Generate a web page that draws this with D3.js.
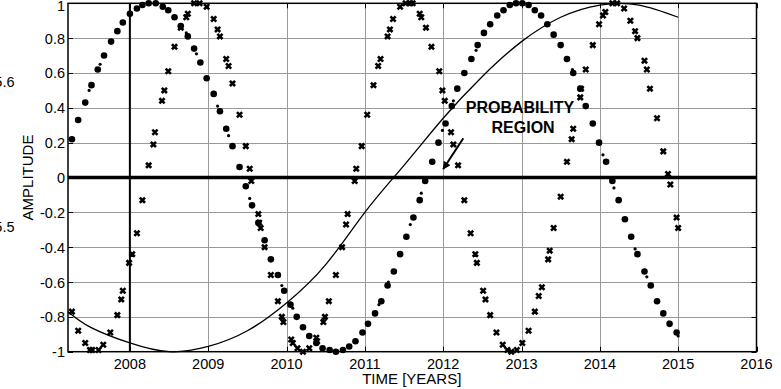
<!DOCTYPE html>
<html>
<head>
<meta charset="utf-8">
<script src="https://cdn.jsdelivr.net/npm/d3@7"></script>
<style>
  body { margin: 0; background: #fff; }
  svg { display: block; font-family: "Liberation Sans", Arial, sans-serif; }
</style>
</head>
<body>
<div id="output"></div>
<script>
// tick labels
const xTicks = [2008, 2009, 2010, 2011, 2012, 2013, 2014, 2015, 2016];
const yTicks = [-1, -0.8, -0.6, -0.4, -0.2, 0, 0.2, 0.4, 0.6, 0.8, 1];
const yTickLabels = ["-1", "-0.8", "-0.6", "-0.4", "-0.2", "0", "0.2", "0.4", "0.6", "0.8", "1"];
const leftoverLabels = ["5.6", "5.5"];

// slow trend curve
const curveYears = [2007.21, 2007.5, 2008.0, 2008.5, 2009.0, 2009.5, 2010.0, 2010.5, 2011.0,
    2011.5, 2012.0, 2012.5, 2013.0, 2013.5, 2014.0, 2014.5, 2015.0];
const curveValues = [-0.77, -0.86, -0.95, -1.0, -0.97, -0.88, -0.72, -0.5, -0.2,
    0.07, 0.34, 0.58, 0.78, 0.92, 0.99, 0.99, 0.92];

// big dots
const dotYears = [2007.26, 2007.34, 2007.43, 2007.51, 2007.59, 2007.67, 2007.76, 2007.84, 2007.91,
    2008.00, 2008.09, 2008.16, 2008.24, 2008.33, 2008.42, 2008.49, 2008.57, 2008.65, 2008.74,
    2008.82, 2008.90, 2008.98, 2009.07, 2009.15, 2009.23, 2009.31, 2009.40, 2009.48, 2009.56,
    2009.64, 2009.72, 2009.80, 2009.89, 2009.97, 2010.05, 2010.13, 2010.21, 2010.29, 2010.38,
    2010.46, 2010.55, 2010.63, 2010.72, 2010.80, 2010.88, 2010.97, 2011.04, 2011.13, 2011.21,
    2011.29, 2011.37, 2011.45, 2011.53, 2011.62, 2011.70, 2011.77, 2011.86, 2011.94, 2012.03,
    2012.11, 2012.18, 2012.27, 2012.36, 2012.44, 2012.52, 2012.60, 2012.69, 2012.77, 2012.85,
    2012.93, 2013.01, 2013.09, 2013.17, 2013.25, 2013.33, 2013.41, 2013.50, 2013.58, 2013.66,
    2013.75, 2013.82, 2013.91, 2013.99, 2014.08, 2014.16, 2014.24, 2014.32, 2014.40, 2014.48,
    2014.57, 2014.65, 2014.73, 2014.81, 2014.89, 2014.98];
const dotValues = [0.22, 0.33, 0.43, 0.53, 0.62, 0.70, 0.78, 0.84, 0.89,
    0.94, 0.97, 0.99, 1.00, 1.00, 0.98, 0.96, 0.92, 0.87, 0.81,
    0.74, 0.66, 0.57, 0.48, 0.38, 0.28, 0.18, 0.06, -0.05, -0.16,
    -0.26, -0.36, -0.47, -0.56, -0.65, -0.73, -0.80, -0.86, -0.91, -0.95,
    -0.98, -0.99, -1.00, -0.99, -0.97, -0.94, -0.89, -0.84, -0.78, -0.71,
    -0.62, -0.54, -0.44, -0.34, -0.23, -0.13, -0.02, 0.09, 0.20, 0.31,
    0.41, 0.51, 0.60, 0.68, 0.76, 0.83, 0.88, 0.93, 0.96, 0.99,
    1.00, 1.00, 0.99, 0.96, 0.93, 0.88, 0.82, 0.76, 0.68, 0.60,
    0.51, 0.41, 0.31, 0.20, 0.09, -0.02, -0.13, -0.24, -0.34, -0.44,
    -0.54, -0.62, -0.71, -0.78, -0.84, -0.89];

// small dots
const smallYears = [2007.48, 2007.62, 2008.72, 2008.85, 2009.12, 2009.26, 2009.53, 2009.94, 2010.08,
    2011.18, 2011.30, 2011.58, 2011.72, 2011.99, 2012.13, 2012.42, 2013.65, 2014.04, 2014.18,
    2014.45, 2014.60, 2014.88, 2015.00];
const smallValues = [0.50, 0.65, 0.83, 0.71, 0.41, 0.24, -0.12, -0.62, -0.75,
    -0.73, -0.60, -0.27, -0.09, 0.27, 0.44, 0.73, 0.62, 0.13, -0.06,
    -0.41, -0.57, -0.83, -0.91];

// crosses
const crossYears = [2007.26, 2007.34, 2007.43, 2007.49, 2007.52, 2007.60, 2007.66, 2007.75, 2007.84,
    2007.89, 2007.91, 2007.99, 2008.03, 2008.09, 2008.16, 2008.24, 2008.30, 2008.32, 2008.41,
    2008.44, 2008.49, 2008.57, 2008.65, 2008.72, 2008.74, 2008.82, 2008.89, 2008.98, 2009.07,
    2009.12, 2009.15, 2009.23, 2009.26, 2009.31, 2009.40, 2009.48, 2009.53, 2009.55, 2009.64,
    2009.65, 2009.67, 2009.72, 2009.80, 2009.89, 2009.94, 2009.96, 2010.06, 2010.08, 2010.14,
    2010.21, 2010.29, 2010.38, 2010.39, 2010.47, 2010.49, 2010.54, 2010.63, 2010.71, 2010.76,
    2010.78, 2010.87, 2010.89, 2010.96, 2011.03, 2011.11, 2011.17, 2011.20, 2011.29, 2011.32,
    2011.36, 2011.45, 2011.52, 2011.58, 2011.61, 2011.70, 2011.72, 2011.78, 2011.85, 2011.95,
    2011.99, 2012.02, 2012.10, 2012.13, 2012.19, 2012.27, 2012.35, 2012.41, 2012.43, 2012.51,
    2012.54, 2012.60, 2012.68, 2012.76, 2012.82, 2012.87, 2012.94, 2013.01, 2013.09, 2013.17,
    2013.22, 2013.26, 2013.34, 2013.36, 2013.41, 2013.50, 2013.58, 2013.64, 2013.66, 2013.75,
    2013.76, 2013.82, 2013.91, 2013.99, 2014.04, 2014.07, 2014.16, 2014.22, 2014.31, 2014.39,
    2014.45, 2014.48, 2014.57, 2014.60, 2014.64, 2014.73, 2014.81, 2014.87, 2014.90, 2014.98,
    2015.00];
const crossValues = [-0.77, -0.88, -0.95, -0.99, -0.99, -0.99, -0.96, -0.89, -0.79,
    -0.70, -0.65, -0.49, -0.44, -0.32, -0.13, 0.07, 0.19, 0.26, 0.44,
    0.50, 0.61, 0.75, 0.86, 0.92, 0.94, 1.00, 1.00, 0.98, 0.91,
    0.85, 0.81, 0.68, 0.64, 0.54, 0.36, 0.18, 0.05, -0.02, -0.21,
    -0.26, -0.29, -0.40, -0.56, -0.71, -0.80, -0.83, -0.93, -0.95, -0.98,
    -1.00, -0.98, -0.92, -0.94, -0.83, -0.80, -0.71, -0.56, -0.40, -0.27,
    -0.21, -0.02, 0.05, 0.18, 0.36, 0.53, 0.64, 0.68, 0.81, 0.85,
    0.91, 0.98, 1.00, 1.00, 1.00, 0.94, 0.92, 0.86, 0.75, 0.61,
    0.50, 0.44, 0.26, 0.19, 0.07, -0.13, -0.32, -0.44, -0.49, -0.65,
    -0.70, -0.79, -0.89, -0.96, -0.99, -1.00, -0.99, -0.95, -0.88, -0.77,
    -0.68, -0.63, -0.47, -0.42, -0.29, -0.11, 0.09, 0.22, 0.28, 0.46,
    0.51, 0.62, 0.76, 0.88, 0.93, 0.95, 1.00, 1.00, 0.97, 0.90,
    0.84, 0.80, 0.67, 0.62, 0.51, 0.34, 0.15, 0.02, -0.04, -0.23,
    -0.29];

// annotation (data units)
const noteLines = ["PROBABILITY", "REGION"];
const noteYears = [2012.98, 2013.02];
const noteValues = [0.368, 0.257];
const arrowFrom = [2012.257, 0.225];
const arrowTo = [2012.0, 0.049];
const markerYear = 2008;

const width = 781, height = 389;
const x = d3.scaleLinear().domain([2007.21, 2016]).range([68, 756.5]);
const y = d3.scaleLinear().domain([-1, 1]).range([351.7, 3.3]);
const x0 = x.range()[0], x1 = x.range()[1], y0 = y.range()[0], y1 = y.range()[1];

const svg = d3.select("#output").append("svg")
    .attr("width", width)
    .attr("height", height);

svg.append("defs").append("marker")
    .attr("id", "head")
    .attr("viewBox", "0 -5 10 10")
    .attr("refX", 9)
    .attr("refY", 0)
    .attr("markerWidth", 4.6)
    .attr("markerHeight", 4)
    .attr("markerUnits", "strokeWidth")
    .attr("orient", "auto")
    .append("path")
    .attr("d", "M0,-5L10,0L0,5Z")
    .attr("fill", "#000");

// grid
const grid = svg.append("g").attr("stroke", "#9a9a9a").attr("stroke-width", 1);
grid.selectAll(".gy")
    .data(yTicks.filter(d => d > -1 && d < 1 && d !== 0))
    .join("line")
    .attr("x1", x0).attr("x2", x1)
    .attr("y1", d => Math.round(y(d)) + 0.5).attr("y2", d => Math.round(y(d)) + 0.5);
grid.selectAll(".gx")
    .data(xTicks.filter(d => d > markerYear && d < 2016))
    .join("line")
    .attr("y1", y0).attr("y2", y1)
    .attr("x1", d => Math.round(x(d)) + 0.5).attr("x2", d => Math.round(x(d)) + 0.5);

// inward ticks on all four sides
const ticks = svg.append("g").attr("stroke", "#000").attr("stroke-width", 1);
ticks.selectAll(".tb").data(xTicks).join("line")
    .attr("x1", d => Math.round(x(d)) + 0.5).attr("x2", d => Math.round(x(d)) + 0.5)
    .attr("y1", y0).attr("y2", y0 - 5);
ticks.selectAll(".tt").data(xTicks).join("line")
    .attr("x1", d => Math.round(x(d)) + 0.5).attr("x2", d => Math.round(x(d)) + 0.5)
    .attr("y1", y1).attr("y2", y1 + 5);
ticks.selectAll(".tl").data(yTicks).join("line")
    .attr("y1", d => Math.round(y(d)) + 0.5).attr("y2", d => Math.round(y(d)) + 0.5)
    .attr("x1", x0).attr("x2", x0 + 5);
ticks.selectAll(".tr").data(yTicks).join("line")
    .attr("y1", d => Math.round(y(d)) + 0.5).attr("y2", d => Math.round(y(d)) + 0.5)
    .attr("x1", x1).attr("x2", x1 - 5);

// zero line and the 2008 marker line
svg.append("line")
    .attr("x1", x0).attr("x2", x1)
    .attr("y1", y(0)).attr("y2", y(0))
    .attr("stroke", "#000").attr("stroke-width", 3.3);
svg.append("line")
    .attr("x1", x(markerYear)).attr("x2", x(markerYear))
    .attr("y1", y0).attr("y2", y1)
    .attr("stroke", "#000").attr("stroke-width", 2);

// box
svg.append("rect")
    .attr("x", x0).attr("y", y1)
    .attr("width", x1 - x0).attr("height", y0 - y1)
    .attr("fill", "none").attr("stroke", "#000").attr("stroke-width", 1.5);

// trend curve
const curve = d3.line()
    .x((d, i) => x(curveYears[i]))
    .y(d => y(d))
    .curve(d3.curveNatural);
svg.append("path")
    .attr("d", curve(curveValues))
    .attr("fill", "none")
    .attr("stroke", "#000")
    .attr("stroke-width", 1.3);

// markers
svg.append("g").selectAll("circle")
    .data(dotValues)
    .join("circle")
    .attr("cx", (d, i) => x(dotYears[i]))
    .attr("cy", d => y(d))
    .attr("r", 3.3)
    .attr("fill", "#000");

svg.append("g").selectAll("circle")
    .data(smallValues)
    .join("circle")
    .attr("cx", (d, i) => x(smallYears[i]))
    .attr("cy", d => y(d))
    .attr("r", 1.6)
    .attr("fill", "#000");

svg.append("g")
    .attr("stroke", "#000")
    .attr("stroke-width", 2.6)
    .selectAll("path")
    .data(crossValues)
    .join("path")
    .attr("transform", (d, i) => `translate(${x(crossYears[i])},${y(d)})`)
    .attr("d", "M-2.6,-2.6L2.6,2.6M-2.6,2.6L2.6,-2.6");

// annotation
svg.append("g")
    .attr("font-size", "16px")
    .attr("font-weight", "bold")
    .attr("text-anchor", "middle")
    .selectAll("text")
    .data(noteLines)
    .join("text")
    .attr("x", (d, i) => x(noteYears[i]))
    .attr("y", (d, i) => y(noteValues[i]))
    .text(d => d);

svg.append("line")
    .attr("x1", x(arrowFrom[0])).attr("y1", y(arrowFrom[1]))
    .attr("x2", x(arrowTo[0])).attr("y2", y(arrowTo[1]))
    .attr("stroke", "#000")
    .attr("stroke-width", 2)
    .attr("marker-end", "url(#head)");

// tick labels
svg.append("g")
    .attr("font-size", "14.5px")
    .attr("text-anchor", "middle")
    .selectAll("text")
    .data(xTicks)
    .join("text")
    .attr("x", d => x(d))
    .attr("y", 368.5)
    .text(d => d);

svg.append("g")
    .attr("font-size", "14.5px")
    .attr("text-anchor", "end")
    .selectAll("text")
    .data(yTicks)
    .join("text")
    .attr("x", 65)
    .attr("y", d => Math.max(y(d) + 5.5, 11))
    .text((d, i) => yTickLabels[i]);

// leftover labels of a second axis, cut by the left edge
svg.append("g")
    .attr("font-size", "14.5px")
    .attr("text-anchor", "end")
    .selectAll("text")
    .data(leftoverLabels)
    .join("text")
    .attr("x", 14.5)
    .attr("y", (d, i) => [87, 232][i])
    .text(d => d);

// axis titles
svg.append("text")
    .attr("x", (x0 + x1) / 2 - 0.5)
    .attr("y", 384)
    .attr("text-anchor", "middle")
    .attr("font-size", "15px")
    .text("TIME [YEARS]");

svg.append("text")
    .attr("transform", `translate(32.5,${(y0 + y1) / 2}) rotate(-90)`)
    .attr("text-anchor", "middle")
    .attr("font-size", "15px")
    .text("AMPLITUDE");
</script>
</body>
</html>
